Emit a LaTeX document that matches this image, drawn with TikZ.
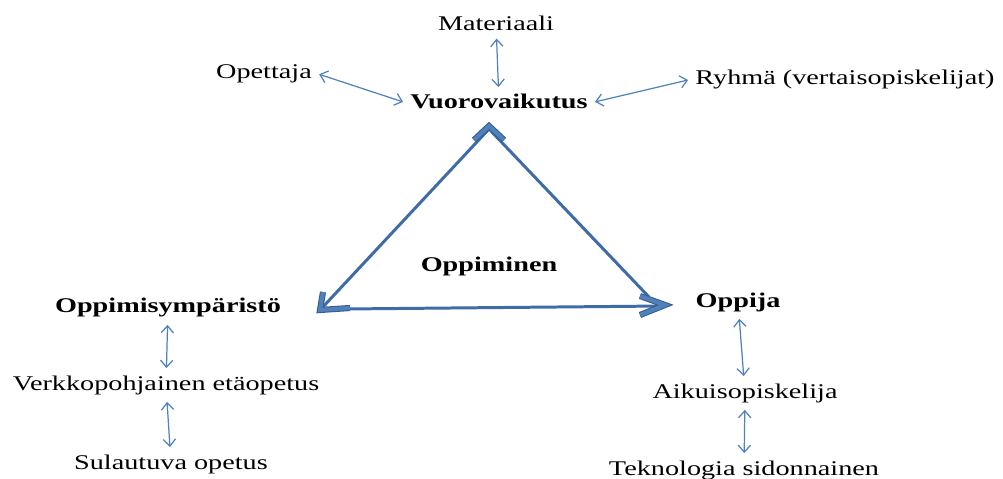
\documentclass[tikz,border=0pt]{standalone}
\usepackage{fontspec}
\setmainfont{Liberation Serif}[FakeStretch=1.35]
\usetikzlibrary{
  arrows.meta,  % Tips "Straight Barb"
}
\definecolor{sideblue}{HTML}{3F6CA6}
\definecolor{linkblue}{HTML}{4F81BD}
\definecolor{chevedge}{HTML}{385D8A}
\definecolor{chevfill}{HTML}{4F81BD}
\def\myfont{\fontsize{11.9}{14}\selectfont}
\tikzset{
  my label/.style={
    anchor=base,
    inner sep=4pt,
    font=\myfont
  },
  my head/.style={
    my label,
    font=\myfont\bfseries
  },
  my link/.style={
    draw=linkblue,
    line width=0.7pt,
    {Straight Barb[length=4pt,width=7pt]}-{Straight Barb[length=4pt,width=7pt]}
  },
  my side/.style={
    draw=sideblue,
    line width=1.7pt
  },
  % Hollow chevron at a corner of the triangle
  my chevron/.style={
    draw=chevedge,
    line width=0.6pt,
    double=chevfill,
    double distance=2.3pt,
    line join=miter
  }
}
\begin{document}
\begin{tikzpicture}[x=0.02cm,y=-0.02cm]
\useasboundingbox (0,0) rectangle (1003,479);
% Texts
\node[my label] (mat) at (496,31)  {Materiaali};
\node[my label] (ope) at (264,79)  {Opettaja};
\node[my head]  (vuo) at (499,109) {Vuorovaikutus};
\node[my label] (ryh) at (845,85)  {Ryhmä (vertaisopiskelijat)};
\node[my head]  (opm) at (489,272) {Oppiminen};
\node[my head]  (ymp) at (168,313) {Oppimisympäristö};
\node[my label] (ver) at (166,390) {Verkkopohjainen etäopetus};
\node[my label] (sul) at (171,469) {Sulautuva opetus};
\node[my head]  (opj) at (738,307) {Oppija};
\node[my label] (aik) at (745,398) {Aikuisopiskelija};
\node[my label] (tek) at (744,475) {Teknologia sidonnainen};
% Triangle
\coordinate (apx) at (489,129);
\coordinate (lv)  at (321,309);
\coordinate (lc)  at (345,309);
\coordinate (rc)  at (649,297);
\coordinate (rv)  at (663,306);
\draw[my side] (apx) -- (lv);
\draw[my side] (apx) -- (rc);
\draw[my side] (lc) -- (rv);
\draw[my chevron] (474,140) -- (489,126) -- (504,140);
\draw[my chevron] (323,292) -- (320,310) -- (350,308);
\draw[my chevron] (640,296) -- (665,305) -- (640,315);
% Links
\draw[my link] (mat) -- (vuo);
\draw[my link] (ope.east) -- (vuo.west);
\draw[my link] (vuo.east) -- (ryh.west);
\draw[my link] (ymp) -- (ver);
\draw[my link] (ver) -- (sul);
\draw[my link] (opj) -- (aik);
\draw[my link] (aik) -- (tek);
\end{tikzpicture}
\end{document}
